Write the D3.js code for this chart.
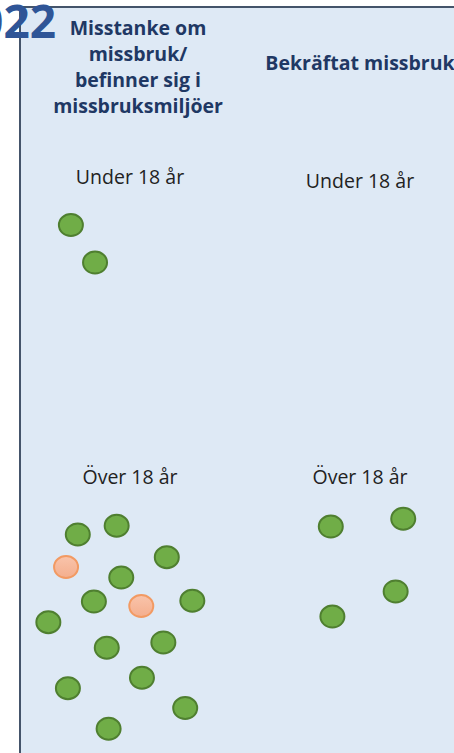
<!DOCTYPE html>
<html>
<head>
<meta charset="utf-8">
<script src="https://cdn.jsdelivr.net/npm/d3@7"></script>
<style>
  html, body { margin: 0; padding: 0; background: #fff; overflow: hidden; }
</style>
</head>
<body>
<div id="main-div"></div>
<script>
// columns / rows of the panel
let columns = ["Misstanke om|missbruk/|befinner sig i|missbruksmiljöer", "Bekräftat missbruk"]
let columnKeys = ["misstanke", "bekraftat"]
let ages = ["Under 18 år", "Över 18 år"]
let yearLabel = "2022"

// points, x / y in percent of each cell
let misstankeUnder = [
  {x: 24.3, y: 21.7, type: "g"},
  {x: 34.8, y: 34.2, type: "g"}
]
let misstankeOver = [
  {x: 27.3, y: 24.8, type: "g"},
  {x: 44.2, y: 21.9, type: "g"},
  {x: 66.0, y: 32.4, type: "g"},
  {x: 22.2, y: 35.7, type: "o"},
  {x: 46.2, y: 39.2, type: "g"},
  {x: 34.3, y: 47.2, type: "g"},
  {x: 54.9, y: 48.7, type: "o"},
  {x: 77.1, y: 46.9, type: "g"},
  {x: 14.5, y: 54.1, type: "g"},
  {x: 39.9, y: 62.6, type: "g"},
  {x: 64.5, y: 60.8, type: "g"},
  {x: 55.2, y: 72.6, type: "g"},
  {x: 23.0, y: 76.1, type: "g"},
  {x: 74.0, y: 82.7, type: "g"},
  {x: 40.7, y: 89.6, type: "g"}
]
let bekraftatUnder = []
let bekraftatOver = [
  {x: 37.3, y: 22.2, type: "g"},
  {x: 68.8, y: 19.6, type: "g"},
  {x: 65.5, y: 43.8, type: "g"},
  {x: 38.0, y: 52.2, type: "g"}
]

let cells = [
  {col: "misstanke", age: "Under 18 år", points: misstankeUnder},
  {col: "misstanke", age: "Över 18 år", points: misstankeOver},
  {col: "bekraftat", age: "Under 18 år", points: bekraftatUnder},
  {col: "bekraftat", age: "Över 18 år", points: bekraftatOver}
]

let width = 454
let height = 753

var svg = d3.select("#main-div")
  .append("svg")
  .attr("width", width)
  .attr("height", height)
  .style("display", "block")

var defs = svg.append("defs")
var grad = defs.append("linearGradient")
  .attr("id", "orangeFill")
  .attr("x1", 0).attr("y1", 0).attr("x2", 0).attr("y2", 1)
grad.append("stop").attr("offset", "0%").attr("stop-color", "#f9c4ab")
grad.append("stop").attr("offset", "100%").attr("stop-color", "#f4ae8d")

// panel background
svg.append("rect")
  .attr("x", 20)
  .attr("y", 7)
  .attr("width", width + 20)
  .attr("height", height + 20)
  .attr("fill", "#dee9f5")
  .attr("stroke", "#44546a")
  .attr("stroke-width", 2)

// scales
x = d3.scaleBand().domain(columnKeys).range([15, 475])
y = d3.scaleBand().domain(ages).range([160, 760])

inner_x = d3.scaleLinear().domain([0, 100]).range([0, x.bandwidth()])
inner_y = d3.scaleLinear().domain([0, 100]).range([0, y.bandwidth()])

// column titles
let titleOffset = [8, 0]
let titleTop = [28, 63]
columns.forEach((title, i) => {
  let lines = title.split("|")
  let t = svg.append("text")
    .attr("text-anchor", "middle")
    .attr("font-family", "Open Sans, sans-serif")
    .attr("font-weight", "bold")
    .attr("font-size", 19.5)
    .attr("fill", "#1f3864")
  lines.forEach((line, j) => {
    t.append("tspan")
      .attr("x", x(columnKeys[i]) + x.bandwidth() / 2 + titleOffset[i])
      .attr("y", titleTop[i] + j * 26)
      .attr("dy", "0.35em")
      .text(line)
  })
})

// year
svg.append("text")
  .attr("x", 56)
  .attr("y", 38)
  .attr("text-anchor", "end")
  .attr("font-family", "Open Sans, sans-serif")
  .attr("font-weight", "bold")
  .attr("font-size", 46)
  .attr("fill", "#2f5597")
  .text(yearLabel)

var cell = svg.selectAll(".cell")
  .data(cells)
  .join("g")
  .attr("class", "cell")
  .attr("transform", d => `translate(${x(d.col)},${y(d.age)})`)

cell.append("text")
  .attr("x", x.bandwidth() / 2)
  .attr("y", d => d.col == "bekraftat" && d.age == "Under 18 år" ? 28 : 24)
  .attr("text-anchor", "middle")
  .attr("font-family", "Open Sans, sans-serif")
  .attr("font-size", 19.5)
  .attr("fill", "#222")
  .text(d => d.age)

cell.selectAll("ellipse")
  .data(d => d.points)
  .join("ellipse")
  .attr("cx", d => inner_x(d.x))
  .attr("cy", d => inner_y(d.y))
  .attr("rx", 12)
  .attr("ry", 11)
  .attr("fill", d => d.type == "g" ? "#70ad47" : "url(#orangeFill)")
  .attr("stroke", d => d.type == "g" ? "#4f7f30" : "#f29a63")
  .attr("stroke-width", 2)
</script>
</body>
</html>
